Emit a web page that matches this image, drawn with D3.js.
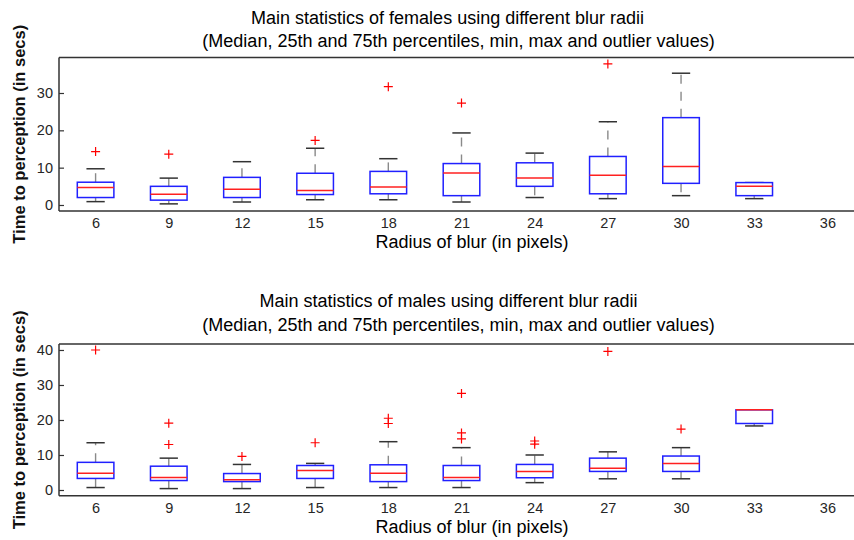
<!DOCTYPE html>
<html><head><meta charset="utf-8">
<script src="https://cdn.jsdelivr.net/npm/d3@7"></script>
<style>body{margin:0;background:#fff;} svg{display:block;font-family:"Liberation Sans",Arial,sans-serif;}</style>
</head><body><svg id="c" width="854" height="540"></svg>
<script>
const categories = ["6","9","12","15","18","21","24","27","30","33","36"];
const yTicksFemale = [0,10,20,30];
const yTicksMale = [0,10,20,30,40];

const femaleMin    = [0.9,0.3,0.8,1.4,1.4,0.8,2.0,1.7,2.5,1.7,null];
const femaleQ1     = [2.0,1.3,2.0,2.8,3.0,2.5,5.0,3.0,5.8,2.5,null];
const femaleMedian = [4.7,2.9,4.2,3.9,4.8,8.6,7.2,8.0,10.3,5.0,null];
const femaleQ3     = [6.1,5.0,7.4,8.5,9.0,11.1,11.3,13.0,23.4,6.0,null];
const femaleMax    = [9.7,7.2,11.6,15.2,12.4,19.3,13.9,22.3,35.3,6.0,null];
const femaleOutliers = [[14.3],[13.6],[],[17.3],[31.7],[27.3],[],[37.8],[],[],[]];

const maleMin    = [0.7,0.4,0.4,0.7,0.7,0.7,2.1,3.2,3.2,18.3,null];
const maleQ1     = [3.3,2.7,2.4,3.3,2.4,2.7,3.5,5.3,5.3,19.0,null];
const maleMedian = [4.8,3.6,2.9,5.6,4.8,3.6,5.3,6.2,7.6,22.9,null];
const maleQ3     = [7.9,6.8,4.7,7.0,7.2,7.0,7.3,9.1,9.7,22.9,null];
const maleMax    = [13.5,9.1,7.3,7.6,13.8,12.1,10.0,10.9,12.1,22.9,null];
const maleOutliers = [[40],[19.1,13.0],[9.6],[13.5],[20.5,19.0],[27.6,16.3,14.6],[14.0,13.1],[39.6],[17.4],[],[]];

const titleLine1F = "Main statistics of females using different blur radii";
const titleLine1M = "Main statistics of males using different blur radii";
const titleLine2 = "(Median, 25th and 75th percentiles, min, max and outlier values)";
const xLabel = "Radius of blur (in pixels)";
const yLabel = "Time to perception (in secs)";

const svg = d3.select("#c");

function panel(cfg){
  const {top, bottom, yDomain, yTicks, mins, q1, med, q3, maxs, outs, t1, t1x, t2x, t1y, t2y} = cfg;
  const left = 59, right = 864;
  const x = d3.scalePoint().domain(categories).range([left, right]).padding(0.5);
  const y = d3.scaleLinear().domain(yDomain).range([bottom, top]);
  const step = x.step();
  const bw = step*0.5, cw = step*0.25;
  const g = svg.append("g");

  g.append("text").attr("x", t1x).attr("y", t1y).attr("text-anchor","middle")
    .attr("font-size","18px").attr("fill","#000").text(t1);
  g.append("text").attr("x", t2x).attr("y", t2y).attr("text-anchor","middle")
    .attr("font-size","18px").attr("fill","#000").text(titleLine2);

  const ya = d3.axisLeft(y).tickValues(yTicks).tickSizeInner(-5).tickSizeOuter(0).tickPadding(6);
  const yg = g.append("g").attr("transform",`translate(${left},0)`).call(ya);
  yg.select(".domain").remove();
  yg.selectAll(".tick line").attr("stroke","#333").attr("stroke-width",1.2);
  yg.selectAll(".tick text").attr("font-size","14.5px").attr("fill","#262626")
    .attr("font-family","Liberation Sans, Arial, sans-serif");

  const xa = d3.axisBottom(x).tickSize(0).tickPadding(7);
  const xg = g.append("g").attr("transform",`translate(0,${bottom})`).call(xa);
  xg.select(".domain").remove();
  xg.selectAll(".tick text").attr("font-size","14.5px").attr("fill","#262626")
    .attr("font-family","Liberation Sans, Arial, sans-serif");

  g.append("line").attr("x1",left).attr("x2",right).attr("y1",top).attr("y2",top)
    .attr("stroke","#333").attr("stroke-width",1.5);
  g.append("line").attr("x1",left).attr("x2",right).attr("y1",bottom).attr("y2",bottom)
    .attr("stroke","#333").attr("stroke-width",1.5);
  g.append("line").attr("x1",left).attr("x2",left).attr("y1",top).attr("y2",bottom)
    .attr("stroke","#333").attr("stroke-width",1.5);

  g.append("text").attr("x",472).attr("y",bottom+37).attr("text-anchor","middle")
    .attr("font-size","18px").attr("fill","#000").text(xLabel);
  g.append("text").attr("transform",`translate(25,${(top+bottom)/2}) rotate(-90)`)
    .attr("text-anchor","middle").attr("font-size","16.5px").attr("font-weight","bold")
    .attr("fill","#111").text(yLabel);

  categories.forEach((c,i)=>{
    if (med[i]==null) return;
    const cx = x(c);
    if (maxs[i] > q3[i]) {
      g.append("line").attr("x1",cx).attr("x2",cx).attr("y1",y(q3[i])).attr("y2",y(maxs[i]))
        .attr("stroke","#8a8a8a").attr("stroke-width",1.4).attr("stroke-dasharray","9,8");
    }
    if (mins[i] < q1[i]) {
      g.append("line").attr("x1",cx).attr("x2",cx).attr("y1",y(q1[i])).attr("y2",y(mins[i]))
        .attr("stroke","#8a8a8a").attr("stroke-width",1.4).attr("stroke-dasharray","9,8");
    }
    [mins[i], maxs[i]].forEach(v=>{
      g.append("line").attr("x1",cx-cw/2).attr("x2",cx+cw/2).attr("y1",y(v)).attr("y2",y(v))
        .attr("stroke","#333").attr("stroke-width",1.5);
    });
    g.append("rect").attr("x",cx-bw/2).attr("width",bw).attr("y",y(q3[i]))
      .attr("height",y(q1[i])-y(q3[i])).attr("fill","#fff").attr("stroke","#2020ff").attr("stroke-width",1.5);
    g.append("line").attr("x1",cx-bw/2).attr("x2",cx+bw/2).attr("y1",y(med[i])).attr("y2",y(med[i]))
      .attr("stroke","#ff2020").attr("stroke-width",1.5);
    outs[i].forEach(v=>{
      const oy = y(v), s = 4.5;
      g.append("path").attr("d",`M${cx-s},${oy}H${cx+s}M${cx},${oy-s}V${oy+s}`)
        .attr("stroke","#ff0000").attr("stroke-width",1.2).attr("fill","none");
    });
  });
}

panel({top:57.5, bottom:211, yDomain:[-1.61,39.51], yTicks:yTicksFemale,
  mins:femaleMin, q1:femaleQ1, med:femaleMedian, q3:femaleQ3, maxs:femaleMax, outs:femaleOutliers,
  t1:titleLine1F, t1x:447.5, t2x:458.5, t1y:23.5, t2y:47});
panel({top:344, bottom:495.7, yDomain:[-1.63,41.71], yTicks:yTicksMale,
  mins:maleMin, q1:maleQ1, med:maleMedian, q3:maleQ3, maxs:maleMax, outs:maleOutliers,
  t1:titleLine1M, t1x:448.5, t2x:458.5, t1y:307, t2y:331});
</script></body></html>
